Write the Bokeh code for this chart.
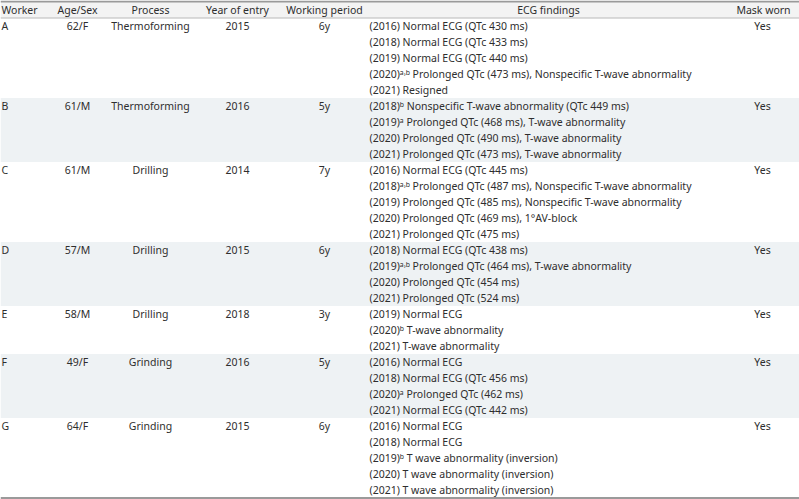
from bokeh.plotting import figure
from bokeh.models import ColumnDataSource
from bokeh.core.properties import value
from bokeh.embed import file_html
from bokeh.resources import INLINE

# ---- data ----
headers = ["Worker", "Age/Sex", "Process", "Year of entry", "Working period", "ECG findings", "Mask worn"]
workers = ["A", "B", "C", "D", "E", "F", "G"]
age_sex = ["62/F", "61/M", "61/M", "57/M", "58/M", "49/F", "64/F"]
process = ["Thermoforming", "Thermoforming", "Drilling", "Drilling", "Drilling", "Grinding", "Grinding"]
year_entry = ["2015", "2016", "2014", "2015", "2018", "2016", "2015"]
working_period = ["6y", "5y", "7y", "6y", "3y", "5y", "6y"]
mask_worn = ["Yes", "Yes", "Yes", "Yes", "Yes", "Yes", "Yes"]
ecg_findings = [
    ["(2016) Normal ECG (QTc 430 ms)",
     "(2018) Normal ECG (QTc 433 ms)",
     "(2019) Normal ECG (QTc 440 ms)",
     "(2020)\u1d43\u02d2\u1d47 Prolonged QTc (473 ms), Nonspecific T-wave abnormality",
     "(2021) Resigned"],
    ["(2018)\u1d47 Nonspecific T-wave abnormality (QTc 449 ms)",
     "(2019)\u1d43 Prolonged QTc (468 ms), T-wave abnormality",
     "(2020) Prolonged QTc (490 ms), T-wave abnormality",
     "(2021) Prolonged QTc (473 ms), T-wave abnormality"],
    ["(2016) Normal ECG (QTc 445 ms)",
     "(2018)\u1d43\u02d2\u1d47 Prolonged QTc (487 ms), Nonspecific T-wave abnormality",
     "(2019) Prolonged QTc (485 ms), Nonspecific T-wave abnormality",
     "(2020) Prolonged QTc (469 ms), 1\u00b0AV-block",
     "(2021) Prolonged QTc (475 ms)"],
    ["(2018) Normal ECG (QTc 438 ms)",
     "(2019)\u1d43\u02d2\u1d47 Prolonged QTc (464 ms), T-wave abnormality",
     "(2020) Prolonged QTc (454 ms)",
     "(2021) Prolonged QTc (524 ms)"],
    ["(2019) Normal ECG",
     "(2020)\u1d47 T-wave abnormality",
     "(2021) T-wave abnormality"],
    ["(2016) Normal ECG",
     "(2018) Normal ECG (QTc 456 ms)",
     "(2020)\u1d43 Prolonged QTc (462 ms)",
     "(2021) Normal ECG (QTc 442 ms)"],
    ["(2016) Normal ECG",
     "(2018) Normal ECG",
     "(2019)\u1d47  T wave abnormality (inversion)",
     "(2020) T wave abnormality (inversion)",
     "(2021) T wave abnormality (inversion)"],
]

# ---- layout (in reference pixel units) ----
W, H = 799, 499
LINE = 16.0
HEAD_BOTTOM = 17.5
col_x = [1, 77, 150, 237, 324, 369, 762]
head_x = [1, 77, 150, 237, 324, 548, 763]
head_align = ["left", "center", "center", "center", "center", "center", "center"]
cell_align = ["left", "center", "center", "center", "center", "left", "center"]
FONT = value("Noto Sans")
FSIZE = "10.5px"
TXT = "#2e2e2e"
SHADE = "#eef2f4"

p = figure(width=W, height=H, x_range=(0, W), y_range=(H, 0),
           output_backend="svg", toolbar_location=None, min_border=0)
p.axis.visible = False
p.grid.visible = False
p.outline_line_color = None
p.background_fill_color = "white"
p.border_fill_color = "white"

# row extents
row_top, row_bot = [], []
y = HEAD_BOTTOM
for f in ecg_findings:
    row_top.append(y)
    y += LINE * len(f)
    row_bot.append(y)

# header background
p.quad(left=[0], right=[W], top=[1], bottom=[HEAD_BOTTOM], fill_color="#f3f3f3", line_color=None)
# shaded rows
sl = [i for i in range(len(workers)) if i % 2 == 1]
p.quad(left=[0] * len(sl), right=[W] * len(sl), top=[row_top[i] for i in sl],
       bottom=[row_bot[i] for i in sl], fill_color=SHADE, line_color=None)

# rules
p.segment(x0=[0], x1=[W], y0=[1], y1=[1], line_color="#9a9a9a", line_width=2)
p.segment(x0=[0], x1=[W], y0=[HEAD_BOTTOM], y1=[HEAD_BOTTOM], line_color="#b8b8b8", line_width=1)
p.segment(x0=[0], x1=[W], y0=[row_bot[-1]], y1=[row_bot[-1]], line_color="#9a9a9a", line_width=2)

# header texts
for hx, ha, ht in zip(head_x, head_align, headers):
    p.text(x=[hx], y=[9.5], text=[ht], text_font=FONT, text_font_size=FSIZE,
           text_color=TXT, text_align=ha, text_baseline="middle")

# cell texts
simple_cols = [workers, age_sex, process, year_entry, working_period]
for ci, col in enumerate(simple_cols):
    src = ColumnDataSource(dict(x=[col_x[ci]] * len(col), y=[t + LINE / 2 for t in row_top], t=col))
    p.text(x="x", y="y", text="t", source=src, text_font=FONT, text_font_size=FSIZE,
           text_color=TXT, text_align=cell_align[ci], text_baseline="middle")

src = ColumnDataSource(dict(x=[col_x[6]] * len(mask_worn), y=[t + LINE / 2 for t in row_top], t=mask_worn))
p.text(x="x", y="y", text="t", source=src, text_font=FONT, text_font_size=FSIZE,
       text_color=TXT, text_align="center", text_baseline="middle")

ex, ey, et = [], [], []
for i, f in enumerate(ecg_findings):
    for k, line in enumerate(f):
        ex.append(col_x[5])
        ey.append(row_top[i] + LINE / 2 + k * LINE)
        et.append(line)
src = ColumnDataSource(dict(x=ex, y=ey, t=et))
p.text(x="x", y="y", text="t", source=src, text_font=FONT, text_font_size=FSIZE,
       text_color=TXT, text_align="left", text_baseline="middle")

open("out.html", "w").write(file_html(p, INLINE))
